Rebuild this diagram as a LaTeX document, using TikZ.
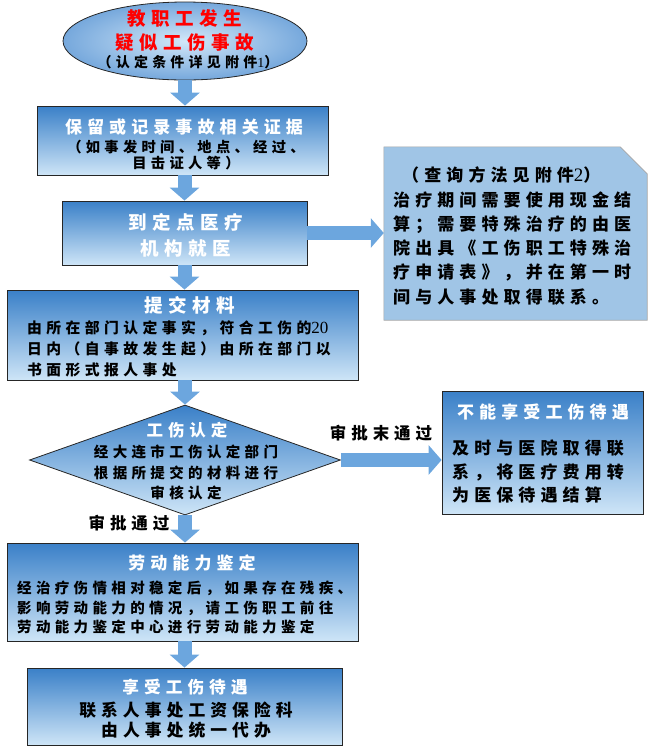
\documentclass[tikz,border=0pt]{standalone}
\usepackage{fontspec}
\setmainfont{Noto Sans CJK SC}[LetterSpace=30]
\newfontfamily\numfont{Liberation Serif}
\usetikzlibrary{shapes.geometric,arrows.meta}

\definecolor{boxtop}{RGB}{58,128,200}
\definecolor{boxbot}{RGB}{206,229,247}
\definecolor{flowblue}{RGB}{108,166,222}
\definecolor{notefill}{RGB}{160,197,230}
\definecolor{ovalin}{RGB}{210,231,248}
\definecolor{ovalout}{RGB}{118,168,220}

\newcommand{\dg}[1]{{\mdseries\numfont #1}}

\tikzset{
	stepbox/.style={draw=black!85, line width=0.8pt, top color=boxtop, bottom color=boxbot, inner sep=0pt},
	hd/.style={text=white, font=\bfseries\fontsize{#1}{#1}\selectfont, inner sep=0pt},
	bd/.style 2 args={text=black, font=\bfseries\fontsize{#1}{#2}\selectfont, inner sep=0pt},
	flow/.style={draw=flowblue, line width=14pt, -{Triangle[width=29pt,length=13pt]}},
}

\begin{document}
\begin{tikzpicture}[x=1pt, y=-1pt]
	\useasboundingbox (0,0) rectangle (653,748);

	%start oval
	\node[ellipse, draw=black!85, line width=0.8pt, inner color=ovalin, outer color=ovalout, minimum width=244pt, minimum height=78pt] (e1) at (185,41) {};
	\node[hd=18.5, text=red, align=center, font=\bfseries\fontsize{18.5}{24}\selectfont] (t1) at (185,30) {教职工发生\\疑似工伤事故};
	\node[bd={14}{16}] (t1b) at (188,62) {（认定条件详见附件\dg{1}）};

	%main steps
	\node[stepbox, minimum width=291pt, minimum height=69pt] (b2) at (182.5,140.5) {};
	\node[hd=17] (t2) at (184,127) {保留或记录事故相关证据};
	\node[bd={14.3}{15.5}, align=center] (t2b) at (186,155) {（如事发时间、地点、经过、\\目击证人等）};

	\node[stepbox, minimum width=245pt, minimum height=64pt] (b3) at (184.5,233) {};
	\node[hd=18.5, align=center, font=\bfseries\fontsize{18.5}{26}\selectfont] (t3) at (186,235) {到定点医疗\\机构就医};

	\node[stepbox, minimum width=351pt, minimum height=90pt] (b4) at (182.5,335) {};
	\node[hd=18.5] (t4) at (190,305) {提交材料};
	\node[bd={14.8}{21}, align=left, anchor=west] (t4b) at (27,349) {由所在部门认定事实，符合工伤的\dg{\fontsize{17}{21}\selectfont 20}\\日内（自事故发生起）由所在部门以\\书面形式报人事处};

	\node[diamond, stepbox, minimum width=311pt, minimum height=110pt] (d) at (185,460) {};
	\node[hd=16.5] (t5) at (187,430) {工伤认定};
	\node[bd={14.5}{20.5}, align=center] (t5b) at (186,472.5) {经大连市工伤认定部门\\根据所提交的材料进行\\审核认定};

	\node[stepbox, minimum width=351pt, minimum height=98pt] (b6) at (182.5,592) {};
	\node[hd=17] (t6) at (192,563) {劳动能力鉴定};
	\node[bd={14.5}{19.5}, align=left, anchor=west] (t6b) at (17,607.5) {经治疗伤情相对稳定后，如果存在残疾、\\影响劳动能力的情况，请工伤职工前往\\劳动能力鉴定中心进行劳动能力鉴定};

	\node[stepbox, minimum width=315pt, minimum height=77pt] (b7) at (184.5,706.5) {};
	\node[hd=16.7] (t7) at (185,687) {享受工伤待遇};
	\node[bd={16.8}{20}, align=center] (t7b) at (186,720) {联系人事处工资保险科\\由人事处统一代办};

	%side boxes
	\node[minimum width=263pt, minimum height=173pt, inner sep=0pt] (note) at (515.5,233.5) {};
	\filldraw[fill=notefill, draw=black!35, line width=0.6pt] (note.south west) -- (note.north west) -- ([xshift=-27pt]note.north east) -- ([yshift=-27pt]note.north east) -- (note.south east) -- cycle;
	\node[bd={17}{24.3}, align=left, anchor=west] (tn) at (393,236) {\hspace*{9pt}（查询方法见附件\dg{\fontsize{19}{24.3}\selectfont 2}）\\治疗期间需要使用现金结\\算；需要特殊治疗的由医\\院出具《工伤职工特殊治\\疗申请表》，并在第一时\\间与人事处取得联系。};

	\node[stepbox, minimum width=201pt, minimum height=123pt] (r1) at (542.5,452.5) {};
	\node[hd=17] (tr) at (543,412) {不能享受工伤待遇};
	\node[bd={17}{23.5}, align=left, anchor=west] (trb) at (452,471.5) {及时与医院取得联\\系，将医疗费用转\\为医保待遇结算};

	%flow arrows
	\draw[flow] (e1.south) -- (e1.south |- b2.north);
	\draw[flow] (b3.north |- b2.south) -- (b3.north);
	\draw[flow] (b3.south) -- (b3.south |- b4.north);
	\draw[flow] (b4.south -| d.north) -- (d.north);
	\draw[flow] (d.south) -- (d.south |- b6.north);
	\draw[flow] (b6.south -| b7.north) -- (b7.north);
	\draw[flow] (b3.east) -- (b3.east -| note.west);
	\draw[flow] (d.east) -- (d.east -| r1.west);

	%labels on the decision
	\node[bd={16.5}{18}] (l1) at (381,433) {审批末通过};
	\node[bd={16.5}{18}] (l2) at (129,523) {审批通过};

\end{tikzpicture}
\end{document}
